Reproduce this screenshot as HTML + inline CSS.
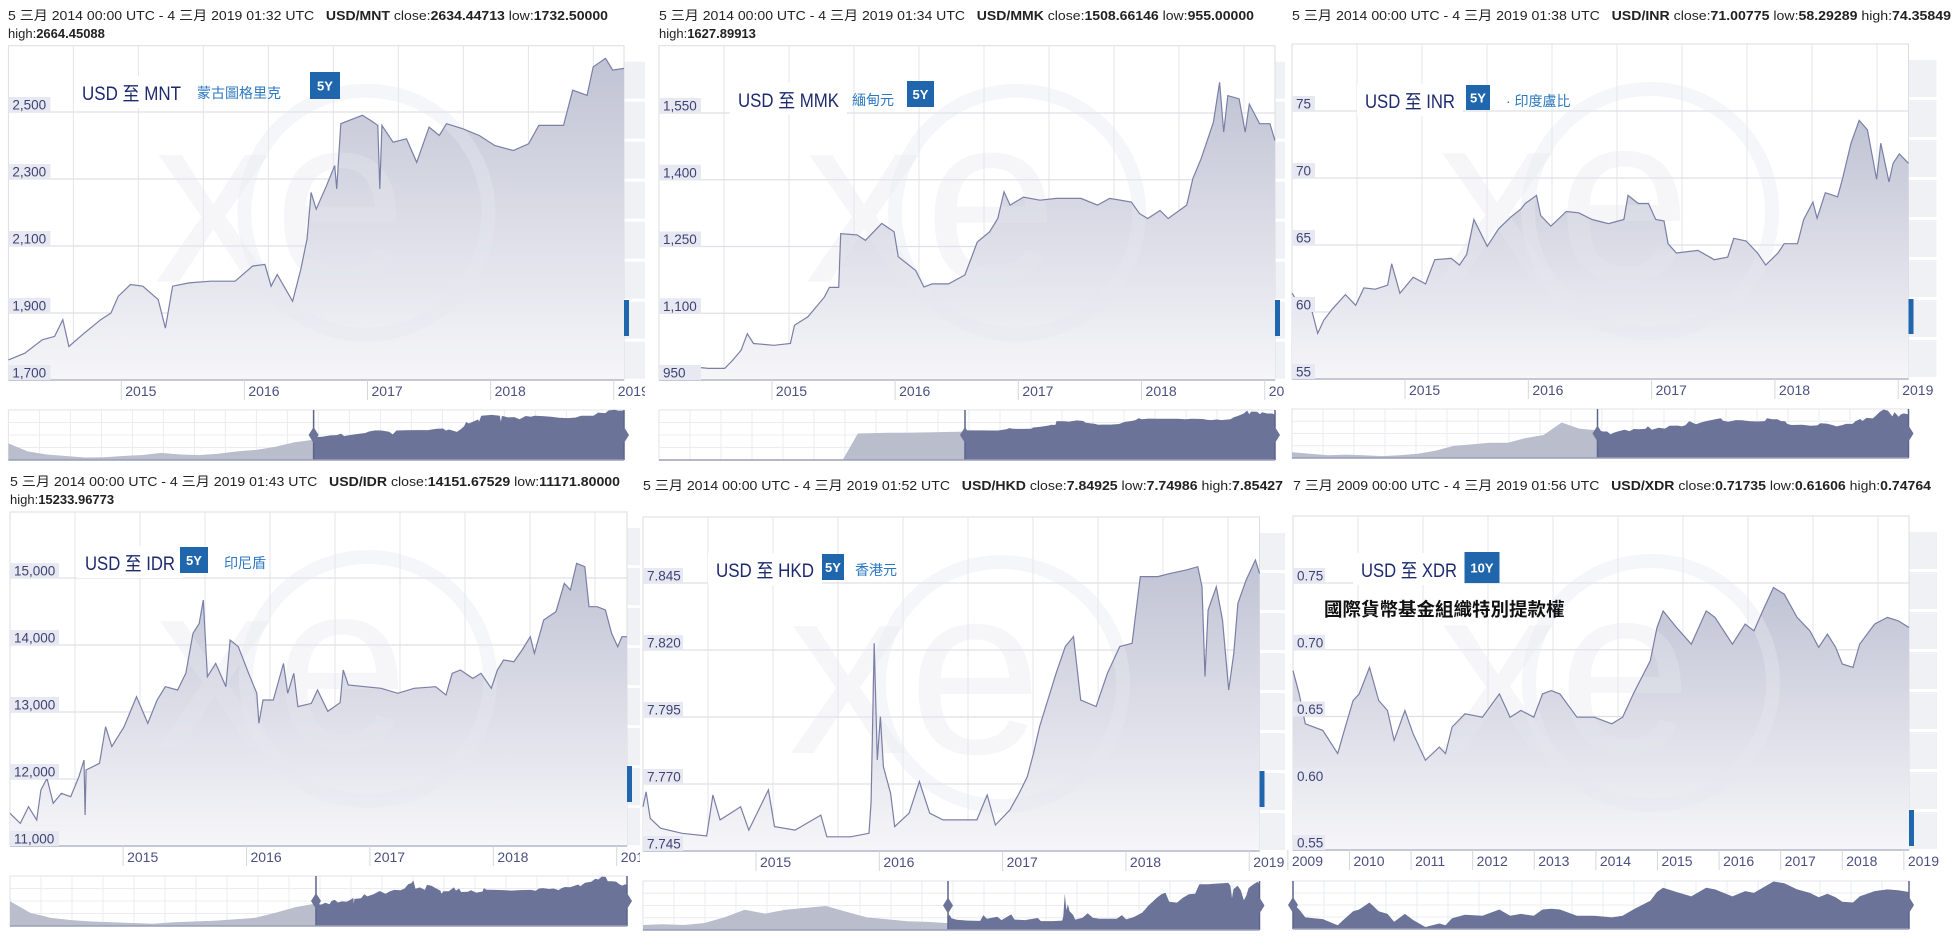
<!DOCTYPE html>
<html><head><meta charset="utf-8">
<style>
html,body{margin:0;padding:0;background:#fff;}
svg{display:block;}
text{font-family:"Liberation Sans","Noto Sans CJK TC",sans-serif;}
</style></head>
<body>
<svg id="root" width="1956" height="949" viewBox="0 0 1956 949" xmlns="http://www.w3.org/2000/svg">
<defs>
<linearGradient id="fillGrad" x1="0" y1="0" x2="0" y2="1">
<stop offset="0" stop-color="#c0c3d4"/>
<stop offset="1" stop-color="#f6f6f9"/>
</linearGradient>
</defs>
</svg>
<script>
// ---------- DATA ----------
const mntMonths=[0,1.6,3.3,4.5,5.3,5.9,7.4,9.0,10.0,10.7,11.9,13.1,14.6,15.3,16.0,17.6,19.7,22.1,23.8,25.0,25.6,26.2,27.7,28.5,29.1,29.5,30.0,31.0,31.8,32.0,32.4,33.2,34.5,35.3,36.0,36.2,36.4,37.5,38.8,39.8,41.0,42.0,42.7,44.3,45.9,47.4,49.2,50.7,51.7,54.1,55.0,56.4,57.0,58.2,58.9,60];
const mntValues=[1760,1780,1820,1830,1880,1800,1840,1880,1900,1950,1985,1980,1940,1855,1980,1990,1995,1995,2040,2045,1980,2015,1935,2030,2120,2260,2210,2280,2340,2270,2465,2475,2490,2475,2460,2270,2460,2410,2420,2350,2455,2430,2465,2450,2430,2400,2385,2405,2460,2460,2565,2550,2635,2660,2625,2630];
const mntYTicks=[1700,1900,2100,2300,2500];
const mntYLabels=["1,700","1,900","2,100","2,300","2,500"];
const mntNavLeft=[1560,1300,1200,1150,1100,1110,1150,1180,1250,1200,1180,1220,1300,1350,1450,1600,1680];

const mmkMonths=[0,1.5,3.1,4.8,6.4,7.2,8.0,8.6,9.2,11.2,12.8,13.2,14.5,16.1,16.6,17.5,17.7,19.3,20.1,21.7,22.9,23.3,25.0,25.8,26.6,28.2,29.8,31.0,32.2,33.0,33.6,34.2,35.5,37.1,38.7,41.1,42.7,43.9,46.0,46.8,47.6,48.8,49.6,51.4,52.0,52.8,54.0,54.6,55.0,55.4,56.5,57.1,57.5,58.5,59.5,60];
const mmkValues=[980,980,980,976,976,995,1017,1054,1032,1028,1032,1073,1092,1136,1158,1158,1279,1276,1264,1302,1283,1227,1196,1159,1166,1166,1186,1260,1283,1313,1373,1343,1361,1354,1358,1358,1343,1358,1350,1324,1313,1331,1313,1343,1403,1447,1529,1619,1507,1589,1582,1507,1570,1526,1526,1488];
const mmkYTicks=[950,1100,1250,1400,1550];
const mmkYLabels=["950","1,100","1,250","1,400","1,550"];
const mmkNavLeft=[20,20,20,20,20,20,20,20,20,20,20,20,20,880,890,900,905,910,920,930,940];

const inrMonths=[0,1.0,1.9,2.5,3.1,3.9,5.2,6.2,7.0,8.1,9.3,9.7,10.5,11.8,13.0,13.9,15.5,16.3,17.0,17.7,19.0,20.1,21.3,22.3,22.7,23.8,24.2,25.2,26.7,27.9,29.2,30.8,32.3,32.7,33.7,34.7,35.4,36.2,36.6,37.4,39.5,41.1,42.4,43.0,44.2,45.3,46.1,47.3,47.9,49.2,49.8,50.7,51.1,51.9,53.1,53.6,54.4,55.2,56.0,56.9,57.3,58.1,58.5,59.1,60];
const inrValues=[61.4,60.2,60.2,58.4,59.4,60.2,61.3,60.5,61.8,61.7,62.0,63.6,61.4,62.6,62.1,63.9,64.0,63.5,64.3,66.9,64.9,66.2,67.1,67.7,68.1,68.7,67.2,66.4,67.5,67.4,66.9,66.6,66.9,68.7,68.1,68.1,66.9,66.8,65.1,64.4,64.6,63.9,64.1,65.5,65.3,64.4,63.5,64.4,65.1,65.1,66.9,68.2,67.0,68.9,68.6,70.0,72.6,74.3,73.6,69.9,72.6,69.7,71.1,71.8,71.1];
const inrYTicks=[55,60,65,70,75];
const inrYLabels=["55","60","65","70","75"];
const inrNavLeft=[47,46,45,45.5,45,44.5,45,46,48,51,52,53,53,56,58,66,62,61];

const idrMonths=[0,1.0,1.8,2.6,3.0,3.6,4.2,5.0,5.9,6.7,7.2,7.3,7.4,8.7,9.3,9.9,11.1,11.9,12.3,13.4,14.3,15.1,16.3,17.1,17.8,18.4,18.8,19.2,20.0,21.0,21.4,22.2,23.2,24.0,24.2,24.6,25.6,26.6,27.0,27.6,28.0,29.3,29.9,30.9,32.1,32.4,32.9,34.5,36.1,37.7,39.3,41.4,42.4,43.0,43.8,45.0,45.8,46.8,47.4,48.0,49.0,49.8,50.6,51.0,51.9,53.1,53.9,54.5,55.1,55.9,56.3,57.1,57.9,58.5,59.1,59.5,60];
const idrValues=[11488,11338,11587,11388,11836,12010,11637,11786,11736,12035,12284,11463,12134,12234,12781,12483,12781,13080,13229,12831,13179,13378,13328,13577,14174,14323,14672,13527,13726,13378,14075,13975,13577,13279,12831,13179,13179,13726,13279,13577,13080,13129,13328,13010,13139,13627,13403,13378,13353,13279,13353,13378,13254,13577,13627,13502,13577,13353,13627,13776,13751,13925,14124,13875,14373,14498,14921,14821,15219,15169,14572,14572,14523,14174,13975,14124,14124];
const idrYTicks=[11000,12000,13000,14000,15000];
const idrYLabels=["11,000","12,000","13,000","14,000","15,000"];
const idrNavLeft=[11800,10200,9500,9200,9000,8900,8800,8700,8900,9000,9100,9300,9500,10200,11000,11500];

const hkdMonths=[0,0.3,0.7,1.7,3.8,6.2,6.8,7.5,9.5,10.3,12.2,12.8,14.8,17.3,17.9,20.2,22.0,22.2,22.5,22.8,23.1,23.4,24.1,24.5,25.9,26.9,27.9,29.2,30.8,32.5,33.5,34.3,35.7,36.6,37.4,38.0,38.6,39.4,40.2,41.1,41.9,42.6,44.1,45.2,46.4,47.6,48.4,50.1,51.3,52.9,54.0,54.4,54.7,55.0,55.8,56.4,57.0,57.5,57.9,58.7,59.6,60];
const hkdValues=[7.7615,7.7671,7.7572,7.7535,7.7516,7.7506,7.7659,7.7566,7.7615,7.7528,7.7678,7.7541,7.7528,7.7584,7.7503,7.7503,7.7516,7.7634,7.8225,7.7790,7.7951,7.7765,7.7665,7.7541,7.7591,7.7709,7.7591,7.7566,7.7566,7.7566,7.7659,7.7547,7.7603,7.7665,7.7727,7.7814,7.7914,7.8013,7.8113,7.8213,7.8250,7.8013,7.7989,7.8113,7.8213,7.8225,7.8474,7.8474,7.8486,7.8499,7.8511,7.8436,7.8101,7.8349,7.8436,7.8312,7.8051,7.8188,7.8374,7.8461,7.8536,7.8486];
const hkdYTicks=[7.745,7.770,7.795,7.820,7.845];
const hkdYLabels=["7.745","7.770","7.795","7.820","7.845"];
const hkdNavLeft=[7.74,7.742,7.74,7.745,7.76,7.78,7.77,7.78,7.785,7.79,7.775,7.76,7.755,7.75,7.748,7.745];

const xdrMonths=[0,1.2,2.4,5.8,8.7,10.0,11.7,12.9,14.9,16.7,18.4,19.7,21.8,23.4,25.8,28.5,29.7,31.0,33.5,36.9,40.2,42.3,44.4,46.9,48.6,50.3,52.0,55.3,58.7,62.1,64.2,66.3,69.6,70.9,72.1,74.7,77.6,80.5,82.2,85.6,88.1,89.8,91.5,93.6,95.7,98.2,100.7,102.4,104.1,105.7,107.0,109.1,110.4,113.3,115.8,117.9,120];
const xdrValues=[0.6843,0.6669,0.6445,0.6396,0.6222,0.6396,0.6620,0.6669,0.6868,0.6620,0.6545,0.6321,0.6545,0.6371,0.6172,0.6271,0.6222,0.6421,0.6520,0.6495,0.6669,0.6495,0.6545,0.6495,0.6669,0.6694,0.6669,0.6495,0.6495,0.6445,0.6495,0.6669,0.6918,0.7167,0.7291,0.7167,0.7042,0.7291,0.7242,0.7042,0.7192,0.7142,0.7291,0.7466,0.7416,0.7242,0.7142,0.7018,0.7117,0.7018,0.6893,0.6868,0.7042,0.7192,0.7242,0.7217,0.7167];
const xdrYTicks=[0.55,0.60,0.65,0.70,0.75];
const xdrYLabels=["0.55","0.60","0.65","0.70","0.75"];
const xdrNavLeft=[];

const fiveYearTicks=[11,23,35,47,59];
const fiveYearLabels=["2015","2016","2017","2018","2019"];
const tenYearTicks=[-1,11,23,35,47,59,71,83,95,107,119];
const tenYearLabels=["2009","2010","2011","2012","2013","2014","2015","2016","2017","2018","2019"];

// ---------- DRAW ----------
const NS="http://www.w3.org/2000/svg";
const root=document.getElementById('root');
function mk(tag,attrs,parent){const e=document.createElementNS(NS,tag);for(const k in attrs)e.setAttribute(k,attrs[k]);(parent||root).appendChild(e);return e;}

const panels=[
 {key:'mnt',months:mntMonths,values:mntValues,yTicks:mntYTicks,yLabels:mntYLabels,navLeft:mntNavLeft,navLo:1019,navHi:2650,
  x0:8.4,x1:624,ytop:45.7,ybot:380,yHiPx:112,span:60,xt:fiveYearTicks,xl:fiveYearLabels,
  clip:[0,0,645,470],hx:8,hy:20,hw:600,hl1:["5 三月 2014 00:00 UTC - 4 三月 2019 01:32 UTC   ",["USD/MNT"]," close:",["2634.44713"]," low:",["1732.50000"]],
  hl2:["high:",["2664.45088"]],title:"USD 至 MNT",tw:99,tx:82,ty:100,cn:"蒙古圖格里克",cnx:197,bx:310,by:72,bw:30,bh:27,badge:"5Y",
  blueY:[300,336],navY:[410,460],split:313.6,lbw:42},
 {key:'mmk',months:mmkMonths,values:mmkValues,yTicks:mmkYTicks,yLabels:mmkYLabels,navLeft:mmkNavLeft,navLo:20,navHi:1640,
  x0:659,x1:1275,ytop:45.7,ybot:380,yHiPx:113,span:60,xt:fiveYearTicks,xl:fiveYearLabels,
  clip:[645,0,640,470],hx:659,hy:20,hw:595,hl1:["5 三月 2014 00:00 UTC - 4 三月 2019 01:34 UTC   ",["USD/MMK"]," close:",["1508.66146"]," low:",["955.00000"]],
  hl2:["high:",["1627.89913"]],title:"USD 至 MMK",tw:101,tx:738,ty:107,cn:"緬甸元",cnx:852,bx:907,by:81,bw:27,bh:26,badge:"5Y",
  blueY:[300,336],navY:[410,460],split:965,lbw:42},
 {key:'inr',months:inrMonths,values:inrValues,yTicks:inrYTicks,yLabels:inrYLabels,navLeft:inrNavLeft,navLo:43.3,navHi:74.6,
  x0:1292,x1:1908.5,ytop:44,ybot:379,yHiPx:111,span:60,xt:fiveYearTicks,xl:fiveYearLabels,
  clip:[1285,0,671,470],hx:1292,hy:20,hw:659,hl1:["5 三月 2014 00:00 UTC - 4 三月 2019 01:38 UTC   ",["USD/INR"]," close:",["71.00775"]," low:",["58.29289"]," high:",["74.35849"]],
  hl2:null,title:"USD 至 INR",tw:90,tx:1365,ty:108,cn:"· 印度盧比",cnx:1506,bx:1466,by:85,bw:24,bh:25,badge:"5Y",
  blueY:[299,334],navY:[409,458],split:1597.5,lbw:23},
 {key:'idr',months:idrMonths,values:idrValues,yTicks:idrYTicks,yLabels:idrYLabels,navLeft:idrNavLeft,navLo:8383,navHi:15300,
  x0:10,x1:627,ytop:512,ybot:846,yHiPx:578,span:60,xt:fiveYearTicks,xl:fiveYearLabels,
  clip:[0,470,640,479],hx:10,hy:486,hw:610,hl1:["5 三月 2014 00:00 UTC - 4 三月 2019 01:43 UTC   ",["USD/IDR"]," close:",["14151.67529"]," low:",["11171.80000"]],
  hl2:["high:",["15233.96773"]],title:"USD 至 IDR",tw:90,tx:85,ty:570,cn:"印尼盾",cnx:224,bx:180,by:547,bw:28,bh:26,badge:"5Y",
  blueY:[766,802],navY:[876,926],split:316,lbw:49},
 {key:'hkd',months:hkdMonths,values:hkdValues,yTicks:hkdYTicks,yLabels:hkdYLabels,navLeft:hkdNavLeft,navLo:7.7267,navHi:7.8560,
  x0:643,x1:1259.5,ytop:517,ybot:851,yHiPx:583,span:60,xt:fiveYearTicks,xl:fiveYearLabels,
  clip:[640,470,645,479],hx:643,hy:490,hw:640,hl1:["5 三月 2014 00:00 UTC - 4 三月 2019 01:52 UTC   ",["USD/HKD"]," close:",["7.84925"]," low:",["7.74986"]," high:",["7.85427"]],
  hl2:null,title:"USD 至 HKD",tw:98,tx:716,ty:577,cn:"香港元",cnx:855,bx:822,by:554,bw:22,bh:26,badge:"5Y",
  blueY:[771,807],navY:[881,930],split:948,lbw:40},
 {key:'xdr',months:xdrMonths,values:xdrValues,yTicks:xdrYTicks,yLabels:xdrYLabels,navLeft:xdrNavLeft,navLo:0.6116,navHi:0.7480,
  x0:1293,x1:1909,ytop:516,ybot:850,yHiPx:583,span:120,xt:tenYearTicks,xl:tenYearLabels,
  clip:[1276,470,680,479],hx:1293,hy:490,hw:638,hl1:["7 三月 2009 00:00 UTC - 4 三月 2019 01:56 UTC   ",["USD/XDR"]," close:",["0.71735"]," low:",["0.61606"]," high:",["0.74764"]],
  hl2:null,title:"USD 至 XDR",tw:96,tx:1361,ty:577,cn:null,cnx:0,bx:1464.5,by:552,bw:35,bh:31,badge:"10Y",
  blueY:[810,846],navY:[881,929],split:1293,lbw:32,bigCn:"國際貨幣基金組織特別提款權"}
];

function headerLine(g,parts,x,y,w,name){
  const t=mk('text',{x:x,y:y,'font-size':13,fill:'#222','xml:space':'preserve'},g);
  
  
  t.style.whiteSpace='pre';
  if(w){t.setAttribute('textLength',w);t.setAttribute('lengthAdjust','spacingAndGlyphs');}
  parts.forEach(p=>{const s=mk('tspan',{},t);if(Array.isArray(p)){s.setAttribute('font-weight','bold');s.textContent=p[0];}else s.textContent=p;});
}

panels.forEach((p,pi)=>{
  const cp=mk('clipPath',{id:'clip'+pi},root.querySelector('defs'));
  mk('rect',{x:p.clip[0],y:p.clip[1],width:p.clip[2],height:p.clip[3]},cp);
  const g=mk('g',{'clip-path':'url(#clip'+pi+')'});
  
  

  const vLo=p.yTicks[0],vHi=p.yTicks[p.yTicks.length-1];
  const X=m=>p.x0+m/p.span*(p.x1-p.x0);
  const Y=v=>p.ybot-(v-vLo)/(vHi-vLo)*(p.ybot-p.yHiPx);

  headerLine(g,p.hl1,p.hx,p.hy,p.hw,p.key+'-header-range');
  if(p.hl2) headerLine(g,p.hl2,p.hx,p.hy+18,null,p.key+'-header-high');

  for(let yy=p.ytop+16;yy<p.ybot-12;yy+=40){
    const r=mk('rect',{x:p.x1,y:yy,width:28,height:37,fill:'#f0f1f5'},g);
    
    
  }
  const bg=mk('rect',{x:p.x0,y:p.ytop,width:p.x1-p.x0,height:p.ybot-p.ytop,fill:'#fff',stroke:'#dcdde3','stroke-width':1},g);
  
  
  for(let xx=p.x0+65;xx<p.x1-2;xx+=65){
    const l=mk('line',{x1:xx,x2:xx,y1:p.ytop,y2:p.ybot,stroke:'#e4e5ea','stroke-width':1},g);
    
    
  }
  p.yTicks.forEach(v=>{
    const l=mk('line',{x1:p.x0,x2:p.x1,y1:Y(v),y2:Y(v),stroke:'#dfe0e6','stroke-width':1.2},g);
    
    
  });

  const n=Math.min(p.months.length,p.values.length);
  let pts=[];
  for(let i=0;i<n;i++){pts.push(X(p.months[i]).toFixed(1)+','+Y(p.values[i]).toFixed(1));}
  const area=mk('path',{d:'M'+X(p.months[0]).toFixed(1)+','+p.ybot+' L'+pts.join(' L')+' L'+X(p.months[n-1]).toFixed(1)+','+p.ybot+' Z',fill:'url(#fillGrad)'},g);
  
  
  const ring=mk('circle',{cx:p.x0+358,cy:p.ytop+167,r:122,fill:'none',stroke:'#e6e8ef','stroke-width':14,opacity:0.4},g);
  
  
  const wm=mk('text',{x:p.x0+272,y:p.ytop+236,'font-size':240,'text-anchor':'middle',fill:'#e6e8ef',opacity:0.35},g);
  
  
  wm.textContent='xe';
  const line=mk('polyline',{points:pts.join(' '),fill:'none',stroke:'#7a7fa6','stroke-width':1.2},g);
  
  
  const axis=mk('line',{x1:p.x0,x2:p.x1,y1:p.ybot,y2:p.ybot,stroke:'#b4b7cb','stroke-width':1.5},g);
  
  

  p.yTicks.forEach((v,i)=>{
    const r=mk('rect',{x:p.x0,y:Y(v)-15,width:p.lbw,height:15,fill:'#e7e8f1'},g);
    
    
    const t=mk('text',{x:p.x0+4,y:Y(v)-2.5,'font-size':13.5,fill:'#3d4372'},g);
    
    
    t.textContent=p.yLabels[i];
  });
  p.xt.forEach((m,i)=>{
    const xx=X(m);
    const l=mk('line',{x1:xx,x2:xx,y1:p.ybot,y2:p.ybot+20,stroke:'#d6d7de','stroke-width':1},g);
    
    
    const t=mk('text',{x:xx+4,y:p.ybot+16,'font-size':14,fill:'#4a5080'},g);
    
    
    t.textContent=p.xl[i];
  });

  const tb=mk('rect',{x:p.tx-8,y:p.ty-24,width:p.tw+16,height:32,fill:'#fff'},g);
  
  
  const tt=mk('text',{x:p.tx,y:p.ty,'font-size':19,fill:'#1d2a6e',textLength:p.tw,lengthAdjust:'spacingAndGlyphs'},g);
  
  
  tt.textContent=p.title;
  const br=mk('rect',{x:p.bx,y:p.by,width:p.bw,height:p.bh,fill:'#1f66ad'},g);
  
  
  const bt=mk('text',{x:p.bx+p.bw/2,y:p.by+p.bh/2+5,'font-size':13,'font-weight':'bold',fill:'#fff','text-anchor':'middle'},g);
  
  
  bt.textContent=p.badge;
  if(p.cn){
    const c=mk('text',{x:p.cnx,y:p.ty-2,'font-size':14,fill:'#2b78c2'},g);
    
    
    c.textContent=p.cn;
  }
  if(p.bigCn){
    const c=mk('text',{x:1324,y:616,'font-size':18.5,'font-weight':'bold',fill:'#111'},g);
    
    
    c.textContent=p.bigCn;
  }
  const blue=mk('rect',{x:p.x1,y:p.blueY[0],width:5,height:p.blueY[1]-p.blueY[0],fill:'#1f66ad'},g);
  
  

  const ny0=p.navY[0],ny1=p.navY[1];
  const NYv=v=>ny1-(v-p.navLo)/(p.navHi-p.navLo)*(ny1-ny0);
  const nb=mk('rect',{x:p.x0,y:ny0,width:p.x1-p.x0,height:ny1-ny0,fill:'#fff',stroke:'#e2e3e8'},g);
  
  
  for(let k=1;k<4;k++){
    const l=mk('line',{x1:p.x0,x2:p.x1,y1:ny0+k*(ny1-ny0)/4,y2:ny0+k*(ny1-ny0)/4,stroke:'#ebecf0'},g);
    
    
  }
  for(let xx=p.x0+31;xx<p.x1;xx+=31){
    const l=mk('line',{x1:xx,x2:xx,y1:ny0,y2:ny1,stroke:'#ebecf0'},g);
    
    
  }
  if(p.navLeft.length>1){
    const L=p.navLeft.length;const lp=[];
    for(let i=0;i<L;i++){lp.push((p.x0+i/(L-1)*(p.split-p.x0)).toFixed(1)+','+NYv(p.navLeft[i]).toFixed(1));}
    const la=mk('path',{d:'M'+p.x0+','+ny1+' L'+lp.join(' L')+' L'+p.split+','+ny1+' Z',fill:'#b9bdcc'},g);
    
    
  }
  const NX=m=>p.split+m/p.span*(p.x1-p.split);
  const dp=[];
  for(let i=0;i<n;i++){dp.push(NX(p.months[i]).toFixed(1)+','+NYv(p.values[i]).toFixed(1));}
  const da=mk('path',{d:'M'+p.split+','+ny1+' L'+dp.join(' L')+' L'+p.x1+','+ny1+' Z',fill:'#6b7399'},g);
  
  
  const sl=mk('line',{x1:p.split,x2:p.split,y1:ny0,y2:ny1,stroke:'#5c648c','stroke-width':1.5},g);
  
  
  const el2=mk('line',{x1:p.x1,x2:p.x1,y1:ny0,y2:ny1,stroke:'#5c648c','stroke-width':1.5},g);
  
  
  const my=(ny0+ny1)/2;
  [p.split,p.x1].forEach((hx,hi)=>{
    const h=mk('polygon',{points:(hx-5)+','+my+' '+hx+','+(my-8)+' '+(hx+5)+','+my+' '+hx+','+(my+8),fill:'#6b7399'},g);
    
    
  });
  const nbl=mk('line',{x1:p.x0,x2:p.x1,y1:ny1,y2:ny1,stroke:'#9a9fb8','stroke-width':1.5},g);
  
  
});
</script>
</body></html>
